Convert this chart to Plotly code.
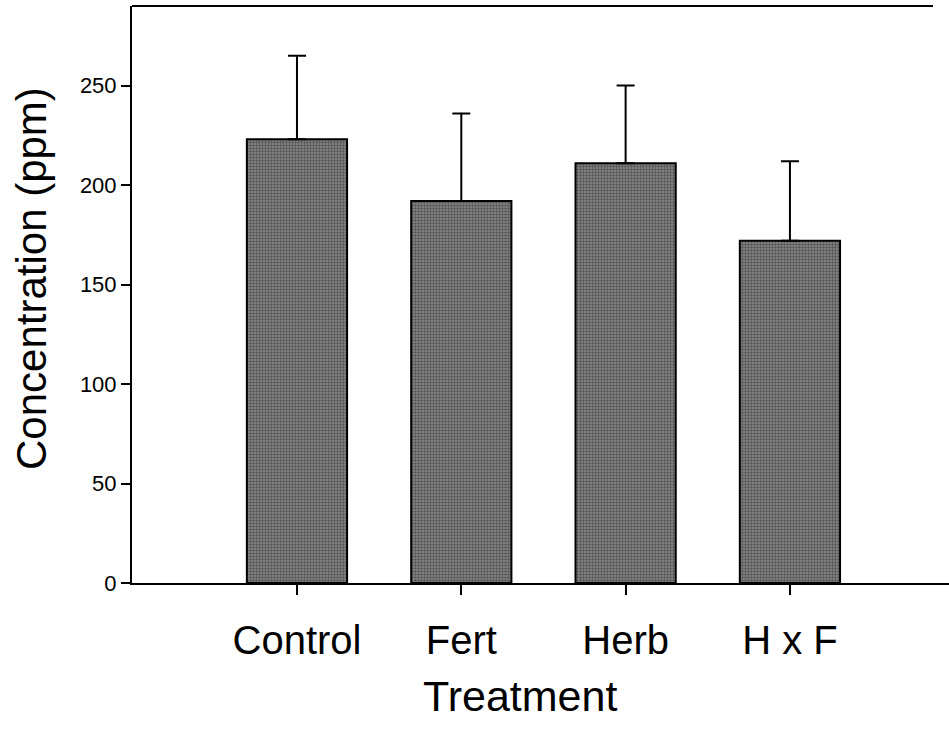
import plotly.graph_objects as go

categories = ["Control", "Fert", "Herb", "H x F"]
means = [223, 192, 211, 172]
errors = [42, 44, 39, 40]
y_ticks = [0, 50, 100, 150, 200, 250]

W, H = 949, 731
L, R, T, B = 132, 0, 6, 148
pw, ph = W - L - R, H - T - B

fig = go.Figure()
fig.add_trace(go.Bar(
    x=list(range(len(categories))),
    y=means,
    width=0.61,
    marker=dict(
        color="#6e6e6e",
        line=dict(color="black", width=2),
        pattern=dict(shape=".", fgcolor="#1e1e1e", bgcolor="#8a8a8a", size=3, solidity=0.5),
    ),
    error_y=dict(type="data", array=errors, arrayminus=[0] * len(errors), symmetric=False,
                 color="black", thickness=2, width=9),
    showlegend=False,
    hoverinfo="skip",
))

font = "Liberation Sans, Arial, Helvetica, sans-serif"

fig.update_layout(
    width=W, height=H,
    margin=dict(l=L, r=R, t=T, b=B),
    plot_bgcolor="white", paper_bgcolor="white",
    font=dict(family=font, color="black"),
    xaxis=dict(
        range=[-1.004, 3.968],
        tickmode="array", tickvals=list(range(len(categories))), ticktext=categories,
        ticks="outside", ticklen=10, tickwidth=2, tickcolor="black",
        ticklabelstandoff=11,
        showline=True, linecolor="black", linewidth=2,
        showgrid=False, zeroline=False,
        tickfont=dict(size=40, family=font),
    ),
    yaxis=dict(
        range=[0, 290],
        tickmode="array", tickvals=y_ticks, ticktext=[str(v) for v in y_ticks],
        ticks="outside", ticklen=9, tickwidth=2, tickcolor="black",
        showline=True, linecolor="black", linewidth=2,
        showgrid=False, zeroline=False,
        tickfont=dict(size=22, family=font),
    ),
    shapes=[dict(type="line", xref="paper", yref="paper", x0=0, x1=(933 - L) / pw, y0=1, y1=1,
                 line=dict(color="black", width=2))],
    annotations=[
        dict(text="Concentration (ppm)", textangle=-90, xref="paper", yref="paper",
             x=(31 - L) / pw, y=(583 - 279) / ph, xanchor="center", yanchor="middle",
             showarrow=False, font=dict(size=42, family=font)),
        dict(text="Treatment", xref="paper", yref="paper",
             x=(520 - L) / pw, y=(583 - 696) / ph, xanchor="center", yanchor="middle",
             showarrow=False, font=dict(size=43, family=font)),
    ],
)

fig.write_html("out.html", config={"displayModeBar": False},
               post_script="document.body.style.margin='0';")
